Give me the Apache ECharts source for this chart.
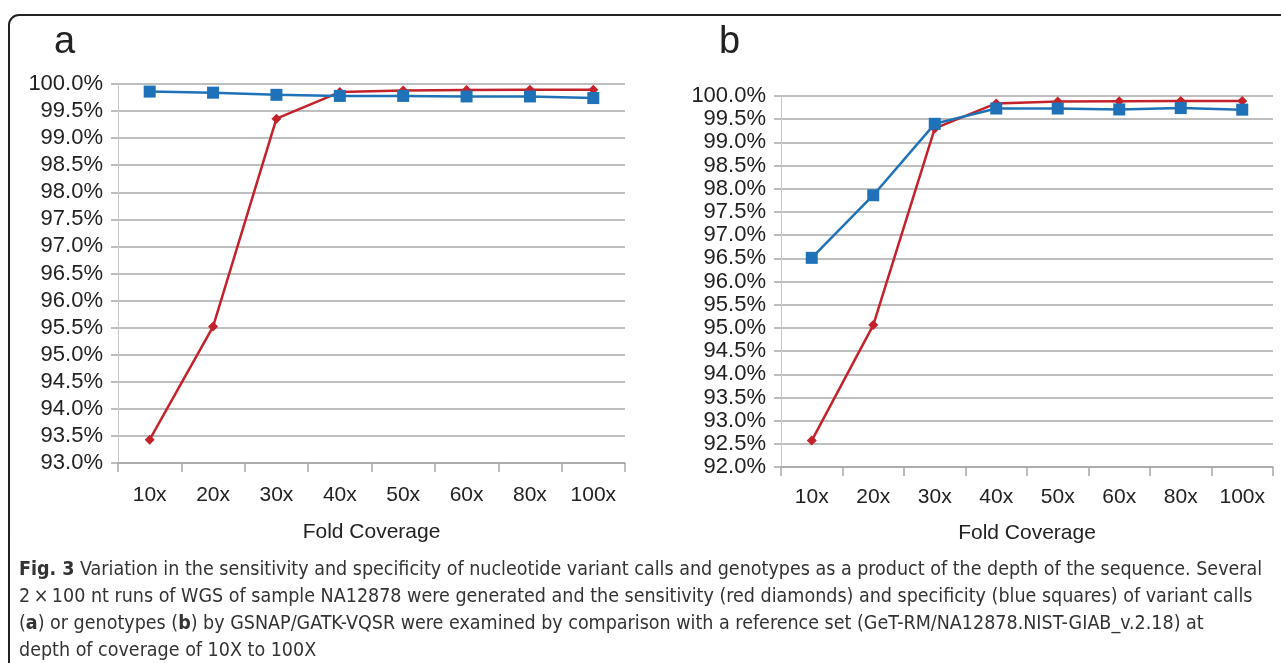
<!DOCTYPE html>
<html>
<head>
<meta charset="utf-8">
<script src="https://cdn.jsdelivr.net/npm/echarts@6/dist/echarts.min.js"></script>
<style>
  html, body { margin: 0; padding: 0; background: #fff; }
  #chart { width: 1281px; height: 663px; }
</style>
</head>
<body>
<div id="chart"></div>
<script>
// fold coverage categories (shared by both panels)
const coverage = ['10x', '20x', '30x', '40x', '50x', '60x', '80x', '100x']

// panel a: variant calls, values in %
const sensitivityA = [93.43, 95.52, 99.36, 99.85, 99.88, 99.89, 99.895, 99.895]
const specificityA = [99.86, 99.84, 99.80, 99.78, 99.78, 99.77, 99.77, 99.74]

// panel b: genotypes, values in %
const sensitivityB = [92.57, 95.06, 99.30, 99.84, 99.88, 99.885, 99.89, 99.89]
const specificityB = [96.51, 97.86, 99.40, 99.73, 99.73, 99.71, 99.74, 99.705]

const captionLines = [
    '{b|Fig. 3} Variation in the sensitivity and specificity of nucleotide variant calls and genotypes as a product of the depth of the sequence. Several',
    '2\u2009\u00d7\u2009100 nt runs of WGS of sample NA12878 were generated and the sensitivity (red diamonds) and specificity (blue squares) of variant calls',
    '({b|a}) or genotypes ({b|b}) by GSNAP/GATK-VQSR were examined by comparison with a reference set (GeT-RM/NA12878.NIST-GIAB_v.2.18) at',
    'depth of coverage of 10X to 100X'
]

const RED = '#c4222b'
const BLUE = '#1f72b8'
const FONT = '"Liberation Sans", Arial, sans-serif'
const CAPTION_FONT = '"DejaVu Sans Condensed", sans-serif'

const chart = echarts.init(document.getElementById('chart'))

function xAxis(gridIndex, labelMargin, nameGap) {
    return {
        type: 'category',
        gridIndex: gridIndex,
        data: coverage,
        boundaryGap: true,
        name: 'Fold Coverage',
        nameLocation: 'middle',
        nameGap: nameGap,
        nameTextStyle: {fontFamily: FONT, fontSize: 21, color: '#222'},
        axisLine: {lineStyle: {color: '#a8a8a8', width: 1.5}},
        axisTick: {show: true, length: 9, lineStyle: {color: '#a8a8a8', width: 1.5}},
        axisLabel: {fontFamily: FONT, fontSize: 21, color: '#222', margin: labelMargin}
    }
}

function yAxis(gridIndex, min) {
    return {
        type: 'value',
        gridIndex: gridIndex,
        min: min,
        max: 100,
        interval: 0.5,
        axisLine: {show: true, lineStyle: {color: '#c8c8c8', width: 1}},
        axisTick: {show: true, length: 7, lineStyle: {color: '#a8a8a8', width: 1.5}},
        splitLine: {lineStyle: {color: '#a8a8a8', width: 1.5}},
        axisLabel: {
            fontFamily: FONT, fontSize: 22, color: '#222', margin: 15,
            formatter: v => v.toFixed(1) + '%'
        }
    }
}

function line(name, data, idx, color, symbol, size) {
    return {
        name: name,
        type: 'line',
        xAxisIndex: idx,
        yAxisIndex: idx,
        data: data,
        symbol: symbol,
        symbolSize: size,
        itemStyle: {color: color},
        lineStyle: {color: color, width: 2.5},
        animation: false
    }
}

chart.setOption({
    animation: false,
    grid: [
        {left: 118, right: 656, top: 84, bottom: 200},
        {left: 781, right: 8, top: 96, bottom: 196}
    ],
    xAxis: [xAxis(0, 22, 59), xAxis(1, 20, 56)],
    yAxis: [yAxis(0, 93), yAxis(1, 92)],
    series: [
        line('Sensitivity', sensitivityA, 0, RED, 'diamond', 10),
        line('Specificity', specificityA, 0, BLUE, 'rect', 12),
        line('Sensitivity', sensitivityB, 1, RED, 'diamond', 10),
        line('Specificity', specificityB, 1, BLUE, 'rect', 12)
    ],
    graphic: [
        {
            type: 'rect',
            shape: {x: 9, y: 15, width: 1320, height: 720, r: 10},
            style: {fill: 'none', stroke: '#222', lineWidth: 2}
        },
        {
            type: 'text', left: 54, top: 24,
            style: {text: 'a', font: '38px ' + FONT, fill: '#222'}
        },
        {
            type: 'text', left: 719, top: 24,
            style: {text: 'b', font: '38px ' + FONT, fill: '#222'}
        },
        {
            type: 'text', left: 19, top: 557,
            style: {
                text: captionLines.join('\n'),
                fontFamily: CAPTION_FONT,
                fontSize: 19.5,
                lineHeight: 26.7,
                fill: '#333',
                rich: {
                    b: {fontFamily: CAPTION_FONT, fontSize: 19.5, fontWeight: 'bold', fill: '#333', lineHeight: 26.7}
                }
            }
        }
    ]
})
</script>
</body>
</html>
